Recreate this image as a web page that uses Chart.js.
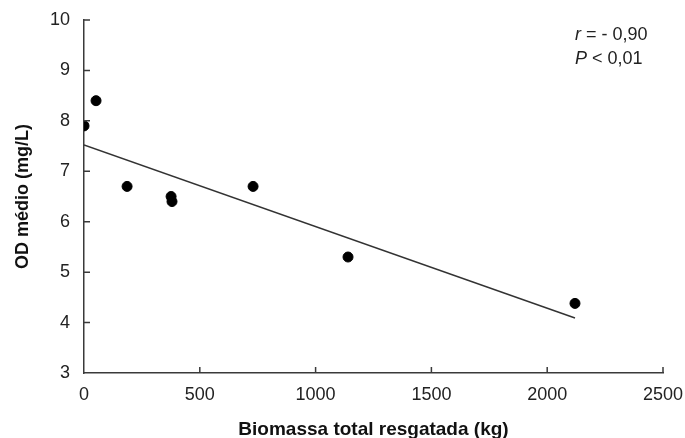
<!DOCTYPE html>
<html>
<head>
<meta charset="utf-8">
<script src="https://cdn.jsdelivr.net/npm/chart.js@4"></script>
<style>
  body { margin: 0; background: #fff; }
  #box { width: 685px; height: 438px; }
</style>
</head>
<body>
<div id="box"><canvas id="odChart"></canvas></div>
<script>
// biomassa total resgatada (kg) x OD medio (mg/L)
const biomassa = [0, 52, 186, 376, 380, 730, 1140, 2120];
const odMedio = [7.9, 8.4, 6.7, 6.5, 6.4, 6.7, 5.3, 4.38];
// linha de tendencia (extremos)
const trendX = [0, 2120];
const trendY = [7.52, 4.09];
const statLines = [['r', ' = - 0,90'], ['P', ' < 0,01']];

const axisColor = '#3a3a3a';
const font = 'Liberation Sans, Arial, sans-serif';

// ticks voltados para dentro, como no original
const innerTicks = {
    id: 'innerTicks',
    afterDraw(chart) {
        const ctx = chart.ctx;
        const xs = chart.scales.x, ys = chart.scales.y;
        const area = chart.chartArea;
        ctx.save();
        ctx.strokeStyle = axisColor;
        ctx.lineWidth = 1.5;
        ctx.beginPath();
        xs.ticks.forEach(t => {
            if (t.value === 0) return;
            const px = xs.getPixelForValue(t.value);
            ctx.moveTo(px, area.bottom);
            ctx.lineTo(px, area.bottom - 6);
        });
        ys.ticks.forEach(t => {
            if (t.value === 3) return;
            const py = ys.getPixelForValue(t.value);
            ctx.moveTo(area.left, py);
            ctx.lineTo(area.left + 6, py);
        });
        ctx.stroke();

        ctx.fillStyle = '#222';
        ctx.textBaseline = 'middle';
        statLines.forEach((s, i) => {
            const y = area.top + 15 + i * 24;
            let x = area.right - 88;
            ctx.font = 'italic 18px ' + font;
            ctx.fillText(s[0], x, y);
            x += ctx.measureText(s[0]).width;
            ctx.font = '18px ' + font;
            ctx.fillText(s[1], x, y);
        });
        ctx.restore();
    }
};

new Chart(document.getElementById('odChart'), {
    type: 'scatter',
    data: {
        datasets: [
            {
                label: 'OD médio',
                data: biomassa.map((x, i) => ({ x: x, y: odMedio[i] })),
                backgroundColor: '#000',
                borderColor: '#000',
                pointRadius: 5,
                pointHoverRadius: 5
            },
            {
                label: 'Tendência',
                type: 'line',
                data: trendX.map((x, i) => ({ x: x, y: trendY[i] })),
                borderColor: '#333',
                borderWidth: 1.5,
                pointRadius: 0,
                fill: false
            }
        ]
    },
    options: {
        responsive: true,
        maintainAspectRatio: false,
        animation: false,
        layout: { padding: { top: 20, right: 22, left: 0, bottom: 0 } },
        plugins: {
            legend: { display: false },
            tooltip: { enabled: false }
        },
        scales: {
            x: {
                type: 'linear',
                min: 0,
                max: 2500,
                afterFit: s => { s.height = 65; s.paddingLeft = 0; s.paddingRight = 0; },
                ticks: {
                    stepSize: 500,
                    color: '#222',
                    font: { family: font, size: 18 },
                    padding: 11,
                    callback: v => String(v)
                },
                grid: { drawOnChartArea: false, drawTicks: false },
                border: { color: axisColor, width: 1.5 },
                title: {
                    display: true,
                    text: 'Biomassa total resgatada (kg)',
                    color: '#111',
                    font: { family: font, size: 19, weight: 'bold' },
                    padding: { top: 3, bottom: -3 }
                }
            },
            y: {
                min: 3,
                max: 10,
                afterFit: s => { s.width = 84; s.paddingTop = 0; s.paddingBottom = 0; },
                ticks: { stepSize: 1, color: '#222', font: { family: font, size: 18 }, padding: 14 },
                grid: { drawOnChartArea: false, drawTicks: false },
                border: { color: axisColor, width: 1.5 },
                title: {
                    display: true,
                    text: 'OD médio (mg/L)',
                    color: '#111',
                    font: { family: font, size: 18, weight: 'bold' },
                    padding: { top: 12, bottom: 0 }
                }
            }
        }
    },
    plugins: [innerTicks]
});
</script>
</body>
</html>
